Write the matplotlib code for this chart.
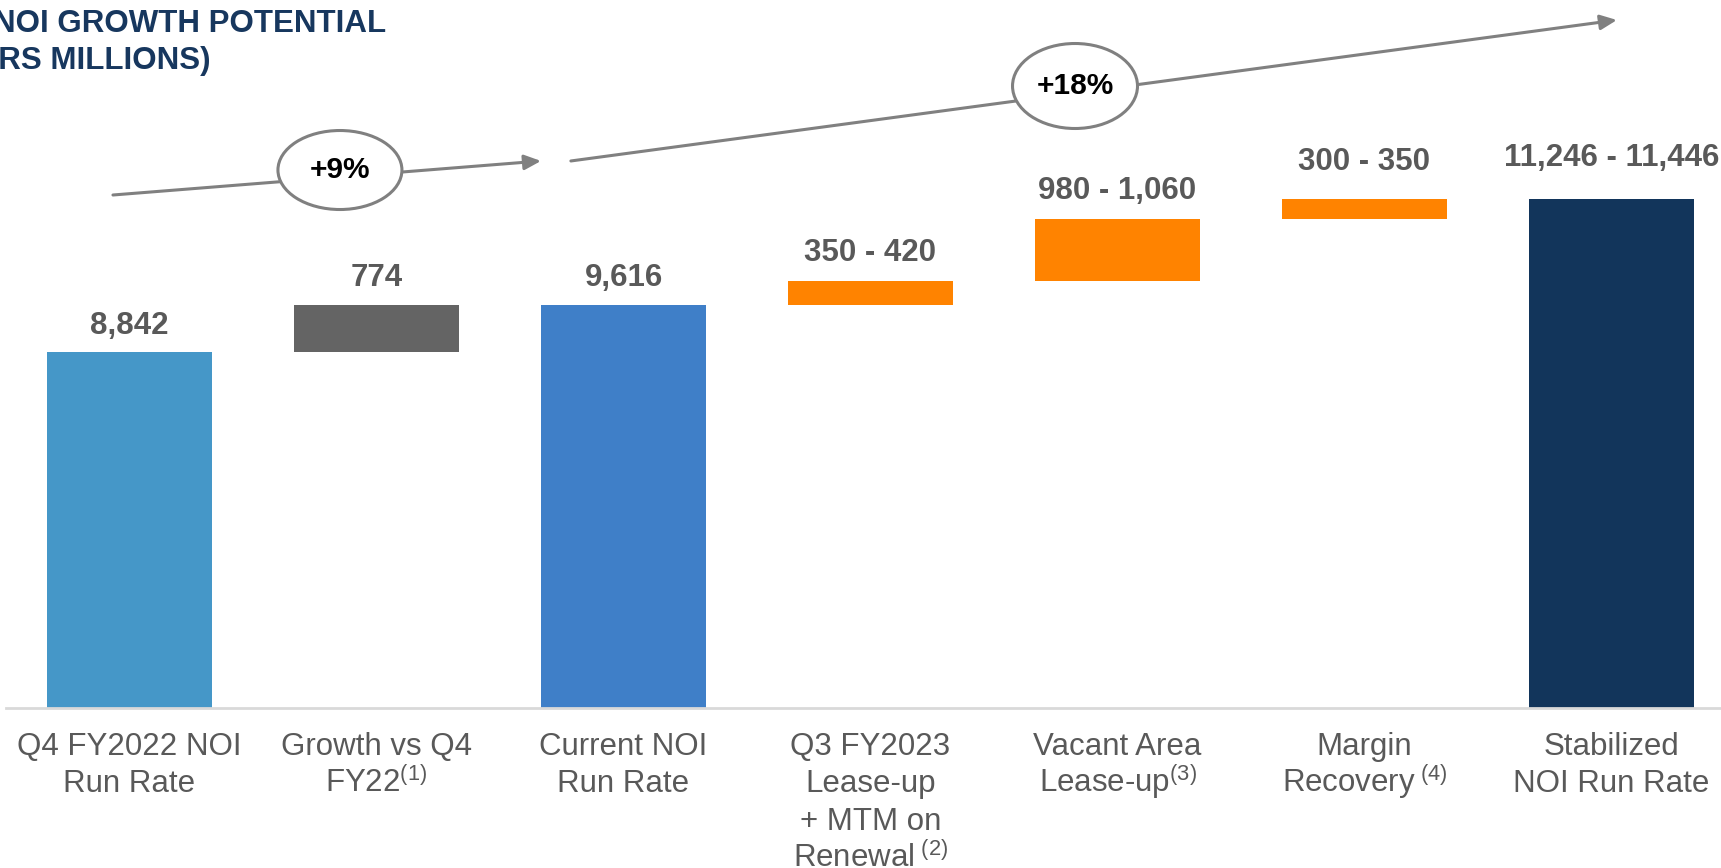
import matplotlib.pyplot as plt
from matplotlib.patches import Ellipse

plt.rcParams['font.family'] = ['Liberation Sans', 'DejaVu Sans']
plt.rcParams['mathtext.fontset'] = 'custom'
plt.rcParams['mathtext.rm'] = 'Liberation Sans'
plt.rcParams['mathtext.it'] = 'Liberation Sans:italic'
plt.rcParams['mathtext.bf'] = 'Liberation Sans:bold'

# NOI bridge, dollars millions
categories = ['Q4 FY2022 NOI\nRun Rate',
              'Growth vs Q4\nFY22$^{(1)}$',
              'Current NOI\nRun Rate',
              'Q3 FY2023\nLease-up\n+ MTM on\nRenewal$^{\\ (2)}$',
              'Vacant Area\nLease-up$^{(3)}$',
              'Margin\nRecovery$^{\\ (4)}$',
              'Stabilized\nNOI Run Rate']
start_noi = 8842
growth_vs_q4 = 774
current_noi = 9616
uplift_low = [350, 980, 300]
uplift_high = [420, 1060, 350]
stabilized_low = 11246
stabilized_high = 11446

colors = ['#4597C8', '#646464', '#3F7FC8', '#FF8300', '#FF8300', '#FF8300', '#12355B']

# floating steps use the midpoint of each range
uplift_mid = [(lo + hi) / 2 for lo, hi in zip(uplift_low, uplift_high)]
stabilized_mid = (stabilized_low + stabilized_high) / 2

bottoms = [0, start_noi, 0]
heights = [start_noi, growth_vs_q4, current_noi]
running = current_noi
for m in uplift_mid:
    bottoms.append(running)
    heights.append(m)
    running += m
bottoms.append(0)
heights.append(stabilized_mid)

labels = [f'{start_noi:,}', f'{growth_vs_q4:,}', f'{current_noi:,}']
labels += [f'{lo:,} - {hi:,}' for lo, hi in zip(uplift_low, uplift_high)]
labels.append(f'{stabilized_low:,} - {stabilized_high:,}')
label_gap = [19, 19, 19.5, 20.5, 20, 26.5, 29.5]

W, H = 1721, 868
fig = plt.figure(figsize=(W / 100, H / 100), dpi=100)
ax = fig.add_axes([6 / W, (H - 708) / H, (W - 6) / W, 708 / H])
ax.set_xlim(-0.5, -0.5 + (W - 6) / 247)
ax.set_ylim(3016, 3016 + 708 / 0.0611)

x = list(range(len(categories)))
ax.bar(x, heights, bottom=bottoms, width=165 / 247, color=colors, zorder=2)

for xi, b, h, txt, gap in zip(x, bottoms, heights, labels, label_gap):
    ax.annotate(txt, (xi, b + h), xytext=(0, gap), textcoords='offset points',
                ha='center', va='center', fontsize=22.5, fontweight='bold',
                color='#595959')

for s in ['top', 'right', 'left']:
    ax.spines[s].set_visible(False)
ax.spines['bottom'].set_color('#D9D9D9')
ax.spines['bottom'].set_linewidth(2)
ax.set_yticks([])
ax.set_xticks([])

# category names, one line at a time so superscripts don't push lines apart
for xi, name in zip(x, categories):
    for i, line in enumerate(name.split('\n')):
        ax.annotate(line, (xi, 0), xycoords=('data', 'axes fraction'),
                    xytext=(0, -(47 + i * 37.4) * 0.72), textcoords='offset points',
                    ha='center', va='baseline', fontsize=22.5, color='#595959',
                    annotation_clip=False)

# growth arrows with percentage bubbles
arrow_kw = dict(arrowstyle='-|>,head_length=1.0,head_width=0.45', mutation_scale=10,
                color='#808080', lw=2.2, shrinkA=0, shrinkB=0)
ax.annotate('', xy=(1.666, 11969), xytext=(-0.067, 11412), arrowprops=arrow_kw,
            annotation_clip=False)
ax.annotate('', xy=(6.022, 14276), xytext=(1.787, 11969), arrowprops=arrow_kw,
            annotation_clip=False)

for (cx, cy), w, h, txt in [((0.852, 11821), 0.502, 1293, '+9%'),
                            ((3.828, 13196), 0.506, 1391, '+18%')]:
    ax.add_patch(Ellipse((cx, cy), w, h, facecolor='white', edgecolor='#808080',
                         lw=2.2, zorder=5, clip_on=False))
    ax.text(cx, cy, txt, ha='center', va='center', fontsize=21.5, fontweight='bold',
            color='black', zorder=6)

fig.text(386 / W, 1 - 24 / H, 'NOI GROWTH POTENTIAL', ha='right', va='center',
         fontsize=22.5, fontweight='bold', color='#17375E')
fig.text(211 / W, 1 - 61 / H, '(DOLLARS MILLIONS)', ha='right', va='center',
         fontsize=22.5, fontweight='bold', color='#17375E')

fig.savefig('out.png', dpi=100)
